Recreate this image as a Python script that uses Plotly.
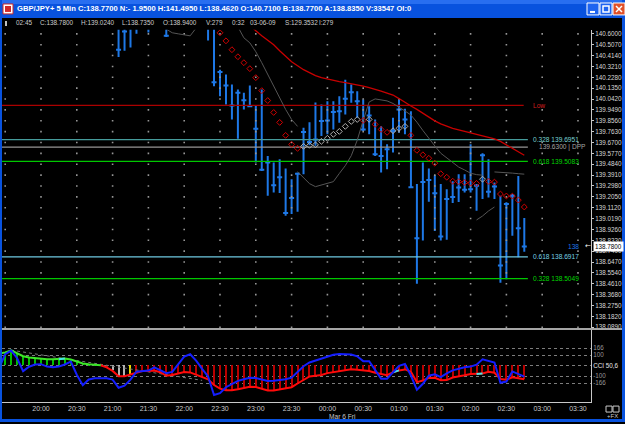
import plotly.graph_objects as go
import pandas as pd

W, H = 625, 424
T0 = pd.Timestamp("2009-03-05 20:00")
STEP = pd.Timedelta(minutes=5)
FONT = "Liberation Sans"

def t_of(i):
    return T0 + STEP * i

# ---------------- price bars (index = 5-min bars after 20:00) ----------------
bar_idx = list(range(13, 82))
bar_high = [140.75, 140.78, 140.80, 140.82, 140.85, 140.85, 140.88, 140.85, 140.78, 140.80,
            140.85, 140.90, 140.92, 140.88, 140.82, 140.76, 140.70, 140.293, 140.251, 140.166,
            140.123, 140.095, 140.157, 139.987, 140.123, 139.555, 139.499, 139.527, 139.448, 139.356,
            139.413, 139.797, 139.844, 140.012, 139.995, 140.023, 140.023, 140.066, 140.208, 140.166,
            140.109, 140.038, 139.981, 139.867, 139.810, 139.654, 139.882, 140.038, 139.959, 139.938,
            139.314, 139.499, 139.448, 139.390, 139.314, 139.271, 139.339, 139.399, 139.399, 139.654,
            139.314, 139.578, 139.527, 139.328, 139.214, 139.158, 139.229, 139.384, 139.024]
bar_low = [140.402, 140.455, 140.483, 140.600, 140.66, 140.611, 140.70, 140.68, 140.572, 140.65,
           140.68, 140.70, 140.74, 140.70, 140.66, 140.543, 140.151, 140.066, 139.995, 139.867,
           139.703, 139.953, 139.976, 139.499, 139.427, 139.214, 139.243, 139.237, 139.044, 139.058,
           139.078, 139.399, 139.646, 139.643, 139.725, 139.740, 139.782, 139.839, 139.910, 140.010,
           139.882, 139.768, 139.740, 139.555, 139.413, 139.442, 139.584, 139.754, 139.740, 139.286,
           138.462, 138.831, 139.163, 138.913, 138.831, 138.837, 139.152, 139.160, 139.243, 139.243,
           139.086, 139.186, 139.200, 139.186, 138.470, 138.500, 138.873, 138.689, 138.735]
bar_close = [140.464, 140.620, 140.66, 140.70, 140.75, 140.70, 140.80, 140.72, 140.583, 140.70,
             140.75, 140.82, 140.80, 140.74, 140.70, 140.65, 140.185, 140.274, 140.157, 139.987,
             140.095, 140.032, 139.981, 139.788, 139.436, 139.499, 139.305, 139.373, 139.067, 139.195,
             139.402, 139.759, 139.674, 139.695, 139.853, 139.859, 139.930, 139.938, 140.044, 140.100,
             140.023, 139.782, 139.902, 139.569, 139.555, 139.612, 139.768, 139.953, 139.867, 139.286,
             138.851, 139.333, 139.350, 139.235, 138.865, 139.186, 139.203, 139.284, 139.265, 139.271,
             139.300, 139.561, 139.248, 139.293, 138.618, 139.143, 139.214, 138.936, 138.780]

# red moving average
ma_idx = list(range(34, 82))
ma_red = [140.72, 140.67, 140.626, 140.583, 140.545, 140.506, 140.455, 140.404, 140.361, 140.327,
          140.293, 140.268, 140.242, 140.225, 140.212, 140.204, 140.191, 140.183, 140.174, 140.161,
          140.153, 140.140, 140.127, 140.110, 140.093, 140.076, 140.046, 140.012, 139.982, 139.953,
          139.919, 139.885, 139.855, 139.829, 139.808, 139.791, 139.778, 139.765, 139.757, 139.744,
          139.731, 139.718, 139.701, 139.680, 139.650, 139.620, 139.591, 139.561]

# dotted average (red when falling, grey when rising)
dot_idx = list(range(30, 82))
dot_vals = [140.609, 140.540, 140.464, 140.404, 140.353, 140.302, 140.225, 140.114, 140.029, 139.927,
            139.842, 139.731, 139.654, 139.620, 139.637, 139.646, 139.650, 139.680, 139.706, 139.740,
            139.765, 139.808, 139.850, 139.867, 139.859, 139.868, 139.825, 139.782, 139.757, 139.771,
            139.791, 139.808, 139.731, 139.603, 139.565, 139.535, 139.493, 139.403, 139.373, 139.339,
            139.335, 139.328, 139.322, 139.320, 139.356, 139.337, 139.331, 139.229, 139.212, 139.211,
            139.177, 139.118]

# grey envelope segments
grey_segments = [
    (list(range(21, 27)), [140.64, 140.609, 140.600, 140.591, 140.583, 140.65]),
    (list(range(33, 44)), [140.66, 140.566, 140.523, 140.447, 140.353, 140.251, 140.149, 140.046,
                           139.953, 139.867, 139.808]),
    (list(range(43, 75)), [139.420, 139.369, 139.318, 139.292, 139.305, 139.319, 139.335, 139.405,
                           139.472, 139.557, 139.689, 139.859, 140.017, 140.043, 140.036, 140.026,
                           140.004, 139.975, 139.940, 139.905, 139.844, 139.773, 139.703, 139.641,
                           139.578, 139.539, 139.497, 139.460, 139.435, 139.407, 139.395, 139.390]),
    (list(range(76, 82)), [139.418, 139.416, 139.412, 139.408, 139.403, 139.399]),
    (list(range(73, 77)), [139.007, 139.041, 139.084, 139.118]),
]

# horizontal levels: label, value, line colour, label colour
levels = [
    ("Low", 139.987, "rgb(170,0,0)", "rgb(210,30,30)"),
    ("0.328 139.6951", 139.6951, "rgb(70,155,155)", "rgb(120,210,210)"),
    ("139.6300 | DPP", 139.6300, "rgb(150,150,150)", "rgb(165,165,165)"),
    ("0.618 139.5083", 139.5083, "rgb(0,200,0)", "rgb(0,215,0)"),
    ("0.618 138.6917", 138.6917, "rgb(110,200,225)", "rgb(120,210,230)"),
    ("0.328 138.5049", 138.5049, "rgb(0,200,0)", "rgb(0,215,0)"),
]

price_ticks = [140.6000, 140.5070, 140.4140, 140.3210, 140.2280, 140.1350, 140.0420, 139.9490,
               139.8560, 139.7630, 139.6700, 139.5770, 139.4840, 139.3910, 139.2980, 139.2050,
               139.1120, 139.0190, 138.9260, 138.8330, 138.7400, 138.6470, 138.5540, 138.4610,
               138.3680, 138.2750, 138.1820, 138.0890]

# ---------------- CCI panel ----------------
cci_idx = list(range(-7, 82))
cci_slow = [117, 126, 145, 119, 90, 77, 70,
            64, 62, 62, 62, 69, 59, 37, 21, 13, 9,
            4, -16, -50, -100, -100, -83, -62, -52, -51, -46,
            -62, -96, -89, -75, -61, -64, -86, -108, -130, -184,
            -219, -233, -233, -224, -210, -201, -204, -219, -237, -236,
            -224, -218, -205, -170, -137, -103, -95, -88, -71, -63,
            -53, -43, -34, -40, -46, -51, -67, -79, -90, -62,
            -45, -36, -58, -157, -141, -117, -116, -139, -137, -113,
            -99, -92, -79, -80, -74, -58, -68, -127, -134, -110,
            -117, -130]
cci_fast = [-20, 110, 143, 71, -52, -10, 10,
            14, -9, -14, -7, 11, 38, -86, -186, -131, -119,
            -119, -119, -133, -210, -190, -133, -58, -52, -47, -17,
            -46, -71, -59, 12, 86, 109, 48, -30, -103, -280,
            -262, -205, -172, -145, -129, -115, -118, -134, -145, -143,
            -135, -130, -114, -61, -5, 30, 48, 67, 90, 103,
            110, 110, 106, 89, 43, 43, -42, -124, -124, -66,
            -1, 16, -94, -230, -173, -96, -83, -110, -73, -45,
            -28, -15, -9, 9, 61, 48, 30, -163, -151, -55,
            -79, -104]
cci_grey_idx = [12, 13, 14]
cci_yellow_idx = [15]
cci_cross_idx = [3, 59, 73]
cci_levels = [166, 100, 0, -100, -166]
cci_labels = ["166", "100", "CCI 50,6", "-100", "-166"]
trend_idx = [-5, 27]
trend_vals = [148, -140]

time_ticks = ["20:00", "20:30", "21:00", "21:30", "22:00", "22:30", "23:00", "23:30",
              "00:00", "00:30", "01:00", "01:30", "02:00", "02:30", "03:00", "03:30"]

# ---------------- geometry helpers ----------------
def px(x):
    return x / W

def py(y):
    return 1 - y / H

XDOM = [px(2), px(591)]
Y1DOM = [py(330), py(30)]
Y2DOM = [py(404), py(331)]
XRANGE = [pd.Timestamp("2009-03-05 19:27:19"), pd.Timestamp("2009-03-06 03:40:54")]
Y1RANGE = [138.0787, 140.634]
Y2RANGE = [-347, 345]

BLUE_BAR = "#1E78E6"
fig = go.Figure()
ann = []

# grid dots at tick intersections
tick_times = [T0 - pd.Timedelta(minutes=30)] + [T0 + pd.Timedelta(minutes=30 * k) for k in range(len(time_ticks))]
gx, gy = [], []
for tt in tick_times:
    for pv in price_ticks:
        gx.append(tt)
        gy.append(pv)
fig.add_trace(go.Scatter(x=gx, y=gy, mode="markers", xaxis="x", yaxis="y",
                         marker=dict(size=1.6, color="rgb(150,150,150)", symbol="square", line_width=0),
                         hoverinfo="skip", showlegend=False))

# horizontal level lines + labels
lvl_end = t_of(bar_idx[-1]) + pd.Timedelta(minutes=3)
lab_x = t_of(bar_idx[-1]) + pd.Timedelta(minutes=5.5)
for name, val, lc, tc in levels:
    end = lvl_end if name != "Low" else t_of(bar_idx[-1]) - pd.Timedelta(minutes=0.5)
    fig.add_trace(go.Scatter(x=[XRANGE[0], end], y=[val, val], mode="lines", xaxis="x", yaxis="y",
                             line=dict(color=lc, width=1.3), hoverinfo="skip", showlegend=False))
    lx = lab_x + (pd.Timedelta(minutes=5) if "DPP" in name else pd.Timedelta(0))
    ann.append(dict(x=lx, y=val, xref="x", yref="y", text=name, showarrow=False,
                    xanchor="left", yanchor="middle",
                    font=dict(family=FONT, size=6.6, color=tc)))

# grey envelope lines
for idx, vals in grey_segments:
    fig.add_trace(go.Scatter(x=[t_of(i) for i in idx], y=vals, mode="lines", xaxis="x", yaxis="y",
                             line=dict(color="rgb(85,85,85)", width=1), hoverinfo="skip", showlegend=False))

# red MA
fig.add_trace(go.Scatter(x=[t_of(i) for i in ma_idx], y=ma_red, mode="lines", xaxis="x", yaxis="y",
                         line=dict(color="rgb(200,0,0)", width=1.3), hoverinfo="skip", showlegend=False))

# bars
bx = [t_of(i) for i in bar_idx]
fig.add_trace(go.Ohlc(x=bx, open=bar_close, high=bar_high, low=bar_low, close=bar_close,
                      xaxis="x", yaxis="y", tickwidth=0.42,
                      increasing=dict(line=dict(color=BLUE_BAR, width=2)),
                      decreasing=dict(line=dict(color=BLUE_BAR, width=2)),
                      hoverinfo="skip", showlegend=False))

# dotted average
dcol = []
for k, v in enumerate(dot_vals):
    dcol.append("rgb(175,175,175)" if k > 0 and v > dot_vals[k - 1] else "rgb(210,0,0)")
fig.add_trace(go.Scatter(x=[t_of(i) for i in dot_idx], y=dot_vals, mode="markers", xaxis="x", yaxis="y",
                         marker=dict(symbol="diamond-open", size=4.5, color=dcol, line=dict(width=1, color=dcol)),
                         hoverinfo="skip", showlegend=False))

# ---------------- CCI traces ----------------
cx = [t_of(i) for i in cci_idx]
hcol = []
for i, v in zip(cci_idx, cci_slow):
    if i in cci_grey_idx:
        hcol.append("rgb(180,180,180)")
    elif i in cci_yellow_idx:
        hcol.append("rgb(230,220,0)")
    elif v >= 0:
        hcol.append("rgb(0,190,0)")
    else:
        hcol.append("rgb(185,0,0)")
fig.add_trace(go.Bar(x=cx, y=cci_slow, width=55000, marker=dict(color=hcol, line_width=0),
                     xaxis="x2", yaxis="y2", hoverinfo="skip", showlegend=False))

fig.add_trace(go.Scatter(x=[t_of(i) for i in trend_idx], y=trend_vals, mode="lines", xaxis="x2", yaxis="y2",
                         line=dict(color="rgb(120,120,120)", width=1, dash="dot"),
                         hoverinfo="skip", showlegend=False))

last_pos = 0
for k, v in enumerate(cci_slow):
    if v < 0:
        break
    last_pos = k
fig.add_trace(go.Scatter(x=cx[last_pos:], y=cci_slow[last_pos:], mode="lines", xaxis="x2", yaxis="y2",
                         line=dict(color="rgb(255,10,10)", width=2), hoverinfo="skip", showlegend=False))
fig.add_trace(go.Scatter(x=cx[:last_pos + 1], y=cci_slow[:last_pos + 1], mode="lines", xaxis="x2", yaxis="y2",
                         line=dict(color="rgb(60,230,40)", width=2), hoverinfo="skip", showlegend=False))
for ci in cci_cross_idx:
    k = cci_idx.index(ci)
    fig.add_trace(go.Scatter(x=cx[k:k + 2], y=cci_slow[k:k + 2], mode="lines", xaxis="x2", yaxis="y2",
                             line=dict(color="rgb(70,230,230)", width=2), hoverinfo="skip", showlegend=False))
fig.add_trace(go.Scatter(x=cx, y=cci_fast, mode="lines", xaxis="x2", yaxis="y2",
                         line=dict(color="rgb(20,30,255)", width=2), hoverinfo="skip", showlegend=False))

# ---------------- layout ----------------
AX = "rgb(200,200,200)"
WIN = "rgb(8,82,222)"
shapes = [
    dict(type="rect", xref="paper", yref="paper", x0=0, x1=1, y0=py(18), y1=1,
         fillcolor=WIN, line_width=0, layer="below"),
    dict(type="rect", xref="paper", yref="paper", x0=0, x1=1, y0=py(4), y1=1,
         fillcolor="rgb(40,110,240)", line_width=0, layer="below"),
    dict(type="rect", xref="paper", yref="paper", x0=0, x1=px(2), y0=0, y1=1,
         fillcolor=WIN, line_width=0, layer="above"),
    dict(type="rect", xref="paper", yref="paper", x0=px(622), x1=1, y0=0, y1=1,
         fillcolor=WIN, line_width=0, layer="above"),
    dict(type="rect", xref="paper", yref="paper", x0=0, x1=1, y0=0, y1=py(421),
         fillcolor=WIN, line_width=0, layer="above"),
    dict(type="line", xref="paper", yref="paper", x0=px(2), x1=px(622), y0=py(330.5), y1=py(330.5),
         line=dict(color="rgb(165,165,165)", width=2), layer="above"),
    dict(type="rect", xref="paper", yref="paper", x0=px(3), x1=px(13), y0=py(14), y1=py(4),
         fillcolor="white", line=dict(color="rgb(200,40,40)", width=1), layer="above"),
    dict(type="rect", xref="paper", yref="paper", x0=px(5), x1=px(11), y0=py(12), y1=py(6),
         fillcolor="rgb(210,40,40)", line_width=0, layer="above"),
    dict(type="rect", xref="paper", yref="paper", x0=px(587), x1=px(599), y0=py(15), y1=py(3),
         fillcolor="rgb(30,100,240)", line=dict(color="white", width=1), layer="above"),
    dict(type="line", xref="paper", yref="paper", x0=px(590), x1=px(595), y0=py(12), y1=py(12),
         line=dict(color="white", width=2), layer="above"),
    dict(type="rect", xref="paper", yref="paper", x0=px(600), x1=px(612), y0=py(15), y1=py(3),
         fillcolor="rgb(30,100,240)", line=dict(color="white", width=1), layer="above"),
    dict(type="rect", xref="paper", yref="paper", x0=px(603), x1=px(609), y0=py(12), y1=py(6),
         fillcolor="rgba(0,0,0,0)", line=dict(color="white", width=1.5), layer="above"),
    dict(type="rect", xref="paper", yref="paper", x0=px(613), x1=px(625), y0=py(15), y1=py(3),
         fillcolor="rgb(225,80,40)", line=dict(color="white", width=1), layer="above"),
    dict(type="line", xref="paper", yref="paper", x0=px(616), x1=px(622), y0=py(12), y1=py(6),
         line=dict(color="white", width=1.5), layer="above"),
    dict(type="line", xref="paper", yref="paper", x0=px(616), x1=px(622), y0=py(6), y1=py(12),
         line=dict(color="white", width=1.5), layer="above"),
    dict(type="line", xref="paper", yref="paper", x0=px(6), x1=px(6), y0=py(26), y1=py(21),
         line=dict(color="white", width=1.5), layer="above"),
    dict(type="rect", xref="paper", yref="paper", x0=px(606), x1=px(612), y0=py(414), y1=py(408),
         fillcolor="rgba(0,0,0,0)", line=dict(color=AX, width=1), layer="above"),
    dict(type="rect", xref="paper", yref="paper", x0=px(613), x1=px(619), y0=py(414), y1=py(408),
         fillcolor="rgba(0,0,0,0)", line=dict(color=AX, width=1), layer="above"),
]

title = ("GBP/JPY+ 5 Min C:138.7700 N:- 1.9500 H:141.4950 L:138.4620 O:140.7100 "
         "B:138.7700 A:138.8350 V:33547 OI:0")
ann.append(dict(x=px(15), y=py(9), xref="paper", yref="paper", text="<b>" + title + "</b>",
                showarrow=False, xanchor="left", yanchor="middle",
                font=dict(family=FONT, size=7.6, color="white")))
header = [("02:45", 14), ("C:138.7800", 38), ("H:139.0240", 79), ("L:138.7350", 120),
          ("O:138.9400", 161), ("V:279", 204), ("0:32", 230), ("03-06-09", 248),
          ("S:129.3532", 283), ("I:279", 317)]
for txt, xx in header:
    ann.append(dict(x=px(xx), y=py(23), xref="paper", yref="paper", text=txt, showarrow=False,
                    xanchor="left", yanchor="middle",
                    font=dict(family=FONT, size=6.4, color="rgb(205,205,205)")))
last_close = bar_close[-1]
ann.append(dict(x=px(592.5), y=last_close, xref="paper", yref="y", text="%.4f" % last_close,
                showarrow=False, xanchor="left", yanchor="middle", bgcolor="white", borderpad=1,
                font=dict(family=FONT, size=6.3, color="black")))
ann.append(dict(x=px(566), y=last_close, xref="paper", yref="y", text="138",
                showarrow=False, xanchor="left", yanchor="middle",
                font=dict(family=FONT, size=6.6, color=BLUE_BAR)))
ann.append(dict(x=px(583), y=last_close, xref="paper", yref="y", text="\u2190",
                showarrow=False, xanchor="left", yanchor="middle",
                font=dict(family="DejaVu Sans", size=7, color="white")))
ann.append(dict(x=T0 + pd.Timedelta(hours=4), y=py(418.5), xref="x2", yref="paper", text="Mar 6 Fri",
                showarrow=False, xanchor="left", yanchor="middle",
                font=dict(family=FONT, size=6.6, color="rgb(200,200,200)")))
ann.append(dict(x=px(620), y=py(418), xref="paper", yref="paper", text="+FX",
                showarrow=False, xanchor="right", yanchor="middle",
                font=dict(family=FONT, size=6, color="rgb(200,200,200)")))

tick_vals_time = [T0 + pd.Timedelta(minutes=30 * k) for k in range(len(time_ticks))]
fig.update_layout(
    width=W, height=H, margin=dict(l=0, r=0, t=0, b=0),
    paper_bgcolor="black", plot_bgcolor="black", showlegend=False, bargap=0,
    xaxis=dict(domain=XDOM, range=XRANGE, type="date", visible=False, anchor="y",
               rangeslider=dict(visible=False), fixedrange=True),
    yaxis=dict(domain=Y1DOM, range=Y1RANGE, anchor="x", side="right", showgrid=False, zeroline=False,
               showline=True, linecolor=AX, linewidth=1, ticks="outside", ticklen=2, tickcolor=AX,
               tickvals=price_ticks, ticktext=["%.4f" % v for v in price_ticks],
               tickfont=dict(family=FONT, size=6.3, color="rgb(215,215,215)")),
    xaxis2=dict(domain=XDOM, range=XRANGE, type="date", anchor="y2", matches="x",
                showgrid=False, zeroline=False, showline=True, linecolor=AX, linewidth=1,
                ticks="", tickvals=tick_vals_time, ticktext=time_ticks,
                tickfont=dict(family=FONT, size=7, color="rgb(200,200,200)")),
    yaxis2=dict(domain=Y2DOM, range=Y2RANGE, anchor="x2", side="right", zeroline=False,
                showline=True, linecolor=AX, linewidth=1, ticks="",
                showgrid=True, gridcolor="rgb(125,125,125)", gridwidth=1, griddash="dot",
                tickvals=cci_levels,
                ticktext=[("<span style='color:rgb(230,230,230)'>%s</span>" % s) if s.startswith("CCI") else s
                          for s in cci_labels],
                tickfont=dict(family=FONT, size=6.3, color="rgb(150,150,150)")),
    shapes=shapes, annotations=ann,
)

fig.write_html("out.html")
